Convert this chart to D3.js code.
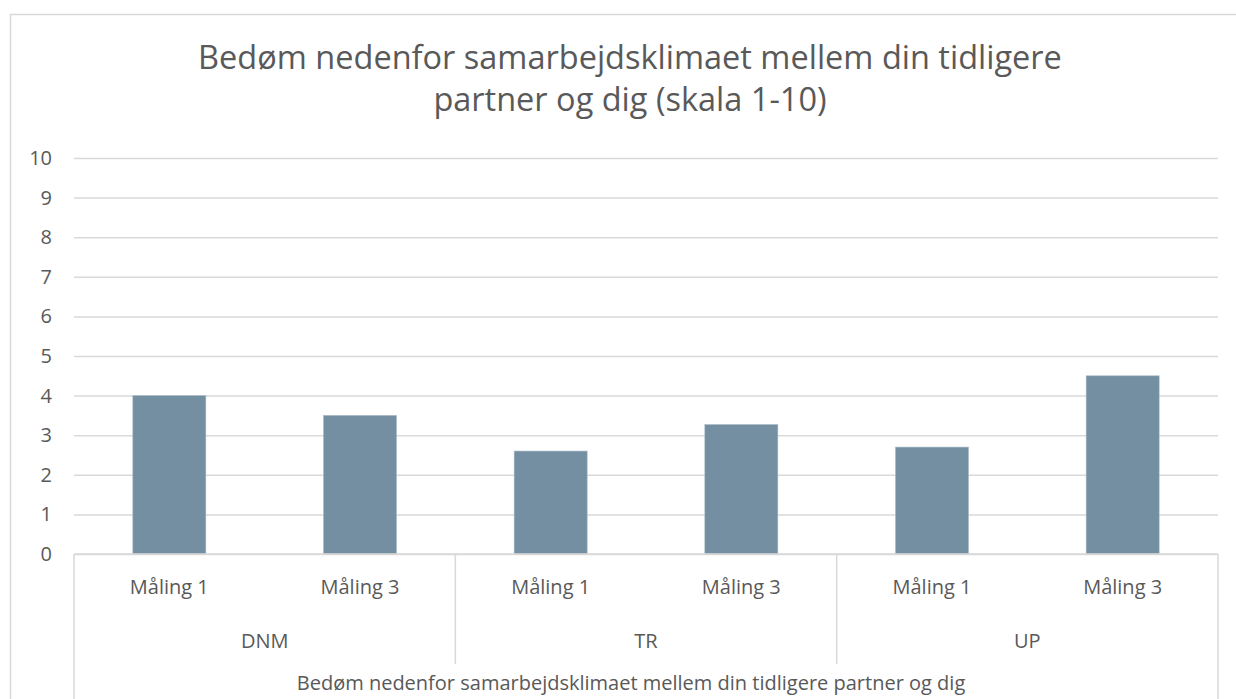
<!DOCTYPE html>
<html>
<head>
<meta charset="utf-8">
<script src="https://cdn.jsdelivr.net/npm/d3@7"></script>
<style>
  html, body { margin: 0; padding: 0; background: #fff; }
  svg { display: block; font-family: "Open Sans", sans-serif; }
</style>
</head>
<body>
<svg id="chart" width="1236" height="699"></svg>
<script>
const titleLines = ["Bedøm nedenfor samarbejdsklimaet mellem din tidligere", "partner og dig (skala 1-10)"];
const axisTitle = "Bedøm nedenfor samarbejdsklimaet mellem din tidligere partner og dig";
const groups = ["DNM", "TR", "UP"];
const measures = ["Måling 1", "Måling 3"];
const dnmValues = [4.0, 3.5];
const trValues = [2.6, 3.27];
const upValues = [2.7, 4.5];
const yTicks = [0, 1, 2, 3, 4, 5, 6, 7, 8, 9, 10];

document.addEventListener("DOMContentLoaded", function () {
    const svg = d3.select("#chart");
    const W = 1236, H = 699;
    const left = 74, right = 1218, top = 158, bottom = 554;

    const seriesByGroup = { DNM: dnmValues, TR: trValues, UP: upValues };
    const rows = [];
    groups.forEach(g => measures.forEach((m, i) => rows.push({ group: g, measure: m, value: seriesByGroup[g][i] })));

    // outer chart border
    svg.append("rect")
        .attr("x", 10.5).attr("y", 14.5)
        .attr("width", W).attr("height", H)
        .attr("fill", "none").attr("stroke", "#d9d9d9").attr("stroke-width", 1.5);

    const x = d3.scaleBand()
        .domain(rows.map(d => d.group + "|" + d.measure))
        .range([left, right])
        .paddingInner(0.617).paddingOuter(0.3085);
    const xGroup = d3.scaleBand().domain(groups).range([left, right]);
    const y = d3.scaleLinear().domain([0, 10]).range([bottom, top]);

    // title
    svg.append("text")
        .attr("x", 630).attr("y", 69)
        .attr("text-anchor", "middle")
        .attr("fill", "#595959").attr("font-size", 32.5)
        .selectAll("tspan").data(titleLines).enter().append("tspan")
        .attr("x", 630).attr("dy", (d, i) => i === 0 ? 0 : 42)
        .text(d => d);

    // y axis + gridlines
    const yAxis = svg.append("g")
        .attr("transform", `translate(${left},0)`)
        .call(d3.axisLeft(y).tickValues(yTicks).tickSize(-(right - left)).tickPadding(22));
    yAxis.select(".domain").remove();
    yAxis.selectAll(".tick line").attr("stroke", "#d9d9d9").attr("stroke-width", 1.5);
    yAxis.selectAll(".tick text")
        .attr("fill", "#595959").attr("font-size", 20).attr("font-family", "Open Sans, sans-serif");

    // bars
    svg.append("g").selectAll("rect")
        .data(rows).enter().append("rect")
        .attr("x", d => x(d.group + "|" + d.measure))
        .attr("y", d => y(d.value))
        .attr("width", x.bandwidth())
        .attr("height", d => y(0) - y(d.value))
        .attr("fill", "#738fa1")
        .attr("stroke", "#a9bcc8").attr("stroke-width", 0.6);

    // category axis lines
    const lines = svg.append("g").attr("stroke", "#d9d9d9").attr("stroke-width", 1.5);
    lines.append("line").attr("x1", left).attr("x2", right).attr("y1", bottom).attr("y2", bottom);
    lines.append("line").attr("x1", left).attr("x2", left).attr("y1", bottom).attr("y2", H);
    lines.append("line").attr("x1", right).attr("x2", right).attr("y1", bottom).attr("y2", H);
    lines.selectAll(".sep").data(groups.slice(1)).enter().append("line")
        .attr("x1", d => xGroup(d)).attr("x2", d => xGroup(d))
        .attr("y1", bottom).attr("y2", 664);

    const labels = svg.append("g").attr("fill", "#595959").attr("font-size", 20).attr("text-anchor", "middle");
    labels.selectAll(".m").data(rows).enter().append("text")
        .attr("x", d => x(d.group + "|" + d.measure) + x.bandwidth() / 2)
        .attr("y", 594)
        .text(d => d.measure);
    labels.selectAll(".g").data(groups).enter().append("text")
        .attr("x", d => xGroup(d) + xGroup.bandwidth() / 2)
        .attr("y", 648)
        .text(d => d);
    labels.append("text")
        .attr("x", 631).attr("y", 690)
        .text(axisTitle);
});
</script>
</body>
</html>
